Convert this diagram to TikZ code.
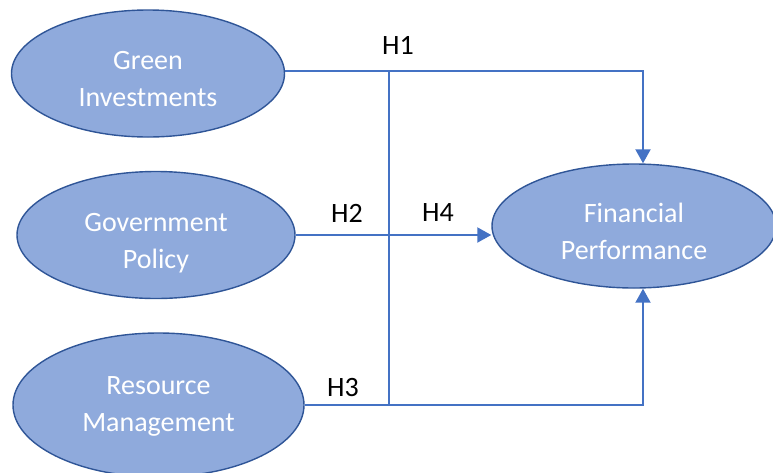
\documentclass[tikz,border=0pt]{standalone}
\usepackage{fontspec}
\setmainfont{Carlito}
\usetikzlibrary{arrows.meta,shapes.geometric}
\definecolor{fillblue}{RGB}{143,170,220}
\definecolor{edgeblue}{RGB}{47,85,151}
\definecolor{linkblue}{RGB}{68,114,196}

\begin{document}
\begin{tikzpicture}[x=1pt,y=-1pt,
    construct/.style={ellipse, draw=edgeblue, line width=1.4pt, fill=fillblue,
        text=white, inner sep=0pt, align=center, font=\fontsize{28}{37}\selectfont,
        text height=66pt, text depth=0pt},
    link/.style={draw=linkblue, line width=2pt, -{Triangle[length=14pt,width=15pt]}},
    thinlink/.style={draw=linkblue, line width=1.1pt},
    hyp/.style={font=\fontsize{28}{34}\selectfont, inner sep=0pt}]
    \useasboundingbox (0,0) rectangle (773,472);

    % Constructs
    \node[construct, minimum width=273pt, minimum height=127pt] (green) at (148,73.5) {Green\\Investments};
    \node[construct, minimum width=278pt, minimum height=127pt] (policy) at (156,235) {Government\\Policy};
    \node[construct, minimum width=291pt, minimum height=144pt, text height=52pt] (resource) at (158.5,405) {Resource\\Management};
    \node[construct, minimum width=284pt, minimum height=124pt] (perf) at (634,226) {Financial\\Performance};

    % Junction points of the moderating line
    \coordinate (jtop) at (389,70);
    \coordinate (jbot) at (389,405);

    % Paths
    \draw[thinlink] (jtop) -- (jbot);
    \draw[link] (green.1.5) -| ([xshift=9pt]perf.north);
    \draw[link] (policy.east) -- (policy.east -| perf.west);
    \draw[link] (resource.east) -| ([xshift=9pt]perf.south);

    % Hypothesis labels
    \node[hyp] (h1) at (398,45) {H1};
    \node[hyp] (h2) at (347,213) {H2};
    \node[hyp] (h4) at (438,213) {H4};
    \node[hyp] (h3) at (343,388) {H3};
\end{tikzpicture}
\end{document}
